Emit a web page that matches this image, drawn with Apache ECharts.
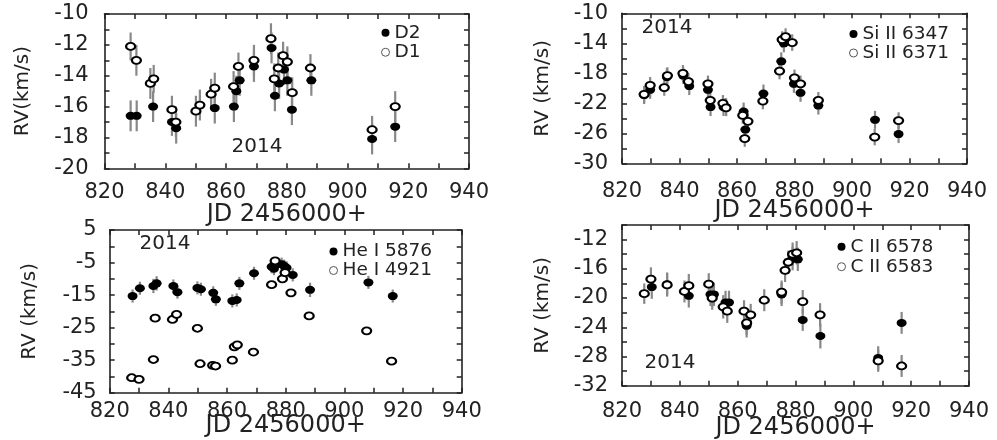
<!DOCTYPE html>
<html>
<head>
<meta charset="utf-8">
<title>RV 2014</title>
<script src="https://cdn.jsdelivr.net/npm/echarts@6/dist/echarts.min.js"></script>
<style>
  html, body { margin: 0; background: #fff; }
  #chart { width: 997px; height: 440px; }
</style>
</head>
<body>
<div id="chart"></div>
<script>
// panel 1 : D2 (filled) / D1 (open)
const d2X = [828.6, 830.6, 836.0, 842.2, 843.6, 856.3, 862.6, 863.4, 864.5, 869.2, 875.0, 876.1, 877.5, 879.1, 880.2, 881.7, 888.1, 908.1, 915.7]
const d2Y = [-16.6, -16.6, -16.0, -17.0, -17.4, -16.1, -16.0, -15.0, -14.3, -13.4, -12.2, -15.3, -14.5, -13.6, -14.3, -16.2, -14.3, -18.1, -17.3]
const d2E = [1.0, 1.0, 1.0, 0.9, 1.0, 1.0, 1.0, 1.0, 1.0, 1.0, 1.0, 1.0, 1.0, 1.0, 1.0, 1.0, 1.0, 1.0, 1.0]
const d1X = [828.6, 830.5, 835.1, 836.2, 842.2, 843.5, 850.1, 851.4, 855.1, 856.3, 862.5, 864.1, 869.2, 874.8, 875.9, 877.2, 878.8, 880.2, 881.8, 887.8, 908.1, 915.7]
const d1Y = [-12.1, -13.0, -14.5, -14.2, -16.2, -17.0, -16.3, -15.9, -15.2, -14.8, -14.7, -13.4, -13.0, -11.6, -14.2, -13.5, -12.7, -13.1, -15.1, -13.5, -17.5, -16.0]
const d1E = [0.9, 1.0, 1.0, 0.9, 0.9, 1.0, 1.0, 1.0, 1.0, 1.0, 1.0, 0.9, 1.0, 1.0, 1.0, 1.0, 0.9, 1.0, 1.0, 0.9, 0.9, 1.0]

// panel 2 : Si II 6347 (filled) / Si II 6371 (open)
const si47X = [827.7, 829.8, 835.6, 841.3, 843.4, 849.9, 850.8, 855.3, 856.2, 862.3, 862.9, 869.2, 875.4, 876.3, 879.8, 882.1, 888.3, 908.0, 916.2]
const si47Y = [-20.9, -20.2, -18.5, -18.3, -19.7, -20.2, -22.5, -22.5, -22.5, -23.1, -25.5, -20.7, -16.4, -14.0, -19.4, -20.6, -22.3, -24.2, -26.1]
const si47E = [1.2, 1.2, 1.2, 1.1, 1.2, 1.2, 1.2, 1.2, 1.2, 1.2, 1.2, 1.2, 1.2, 1.2, 1.2, 1.2, 1.2, 1.2, 1.2]
const si71X = [827.7, 829.8, 834.7, 835.8, 841.2, 843.1, 849.9, 850.7, 855.1, 856.2, 862.0, 862.7, 863.8, 869.0, 874.8, 875.7, 876.9, 879.2, 880.0, 882.1, 888.3, 907.9, 916.2]
const si71Y = [-20.8, -19.6, -19.9, -18.3, -18.0, -19.1, -19.4, -21.6, -22.0, -22.6, -23.6, -26.7, -24.4, -21.7, -17.7, -13.5, -13.1, -13.9, -18.6, -19.4, -21.6, -26.5, -24.3]
const si71E = [1.1, 1.1, 1.1, 1.1, 1.1, 1.1, 1.1, 1.1, 1.1, 1.1, 1.1, 1.1, 1.1, 1.1, 1.1, 1.1, 1.1, 1.1, 1.1, 1.1, 1.1, 1.1, 1.1]

// panel 3 : He I 5876 (filled) / He I 4921 (open)
const he76X = [827.8, 830.3, 834.9, 836.0, 841.7, 843.1, 849.9, 851.1, 855.3, 856.2, 861.8, 863.3, 864.2, 869.2, 875.2, 876.0, 876.9, 878.6, 879.5, 880.3, 882.4, 888.3, 908.2, 916.5]
const he76Y = [-15.3, -12.9, -12.2, -11.4, -12.2, -14.1, -12.8, -13.2, -14.3, -16.3, -16.8, -16.5, -11.4, -8.3, -6.3, -6.9, -5.5, -5.5, -6.1, -6.6, -8.8, -13.4, -11.1, -15.3]
const he76E = [2.0, 2.0, 2.2, 2.2, 2.0, 2.0, 2.0, 2.0, 2.0, 2.0, 2.0, 2.0, 2.0, 2.0, 2.0, 2.0, 2.0, 2.0, 2.0, 2.0, 2.0, 2.2, 2.0, 2.0]
const he21X = [827.5, 830.0, 834.9, 835.5, 841.4, 842.8, 849.9, 850.8, 855.1, 856.1, 861.8, 862.5, 863.5, 869.0, 875.2, 876.4, 878.9, 879.8, 881.8, 888.0, 907.6, 916.1]
const he21Y = [-40.4, -40.9, -34.8, -22.1, -22.5, -20.9, -25.2, -36.1, -36.6, -36.8, -35.0, -30.9, -30.3, -32.5, -11.8, -4.5, -10.0, -8.1, -14.3, -21.4, -26.0, -35.3]

// panel 4 : C II 6578 (filled) / C II 6583 (open)
const c78X = [830.3, 835.6, 843.1, 850.6, 851.8, 855.8, 857.0, 863.1, 875.2, 879.0, 880.8, 882.5, 888.6, 908.6, 916.7]
const c78Y = [-18.5, -18.1, -19.7, -19.5, -19.5, -20.6, -20.6, -23.8, -19.5, -14.6, -14.7, -23.0, -25.2, -28.2, -23.4]
const c78E = [1.6, 1.6, 1.6, 1.6, 1.6, 1.6, 1.6, 1.6, 1.6, 1.6, 1.6, 1.5, 1.7, 1.6, 1.5]
const c83X = [827.7, 830.0, 835.6, 841.6, 843.1, 850.0, 851.2, 855.0, 856.4, 862.2, 863.1, 864.5, 869.2, 875.2, 876.4, 877.5, 879.0, 880.4, 882.5, 888.5, 908.6, 916.7]
const c83Y = [-19.4, -17.4, -18.2, -19.1, -18.3, -18.1, -20.0, -21.2, -21.8, -21.8, -23.4, -22.3, -20.3, -19.2, -16.2, -15.1, -14.0, -13.8, -20.5, -22.3, -28.6, -29.3]
const c83E = [1.4, 1.6, 1.6, 1.5, 1.6, 1.5, 1.6, 1.6, 1.6, 1.5, 1.6, 1.5, 1.5, 1.6, 1.6, 1.6, 1.6, 1.6, 1.6, 1.6, 1.5, 1.5]

const xMin = 820
const xMax = 940

const FONT = 'DejaVu Sans'
const INK = '#222'

const panels = [
  { grid: { left: 104.5, top: 14, width: 364.5, height: 154.3 }, yMin: -20, yMax: -10, yStep: 1, yLabel: v => v % 2 === 0,
    yName: 'RV(km/s)', yGap: 72, yMargin: 16, xMargin: 14, xGap: 34.5,
    legend: { left: 381, top: 23, lh: 19.5 }, year: [257, 147],
    filled: ['D2', d2X, d2Y, d2E], open: ['D1', d1X, d1Y, d1E] },
  { grid: { left: 622, top: 13.3, width: 345, height: 150 }, yMin: -30, yMax: -10, yStep: 2, yLabel: v => (v + 30) % 4 === 0,
    yName: 'RV (km/s)', yGap: 69, yMargin: 14, xMargin: 18, xGap: 35,
    legend: { left: 849, top: 24.5, lh: 15 }, year: [667, 28],
    filled: ['Si II 6347', si47X, si47Y, si47E], open: ['Si II 6371', si71X, si71Y, si71E] },
  { grid: { left: 109.7, top: 230, width: 352, height: 162.7 }, yMin: -45, yMax: 5, yStep: 5, yLabel: v => (v + 45) % 10 === 0,
    yName: 'RV (km/s)', yGap: 70, yMargin: 13, xMargin: 8, xGap: 21.5,
    legend: { left: 329, top: 242, lh: 14 }, year: [165, 244],
    filled: ['He I 5876', he76X, he76Y, he76E], open: ['He I 4921', he21X, he21Y, null] },
  { grid: { left: 622, top: 225, width: 347, height: 160.7 }, yMin: -32, yMax: -10, yStep: 2, yLabel: v => (v + 32) % 4 === 0,
    yName: 'RV (km/s)', yGap: 69, yMargin: 14, xMargin: 15, xGap: 30,
    legend: { left: 837, top: 236.7, lh: 20 }, year: [670, 363],
    filled: ['C II 6578', c78X, c78Y, c78E], open: ['C II 6583', c83X, c83Y, c83E] }
]

const lineStyle = { color: INK, width: 1.6 }
const tickStyle = { inside: true, length: 5, lineStyle: { color: INK, width: 1.5 } }

let grids = []
let xAxes = []
let yAxes = []
let series = []
let legends = []
let graphics = []

function pairs (xs, ys, es) {
  return xs.map((x, i) => es ? [x, ys[i], es[i]] : [x, ys[i]])
}

function errorBars (xs, ys, es, axisIdx) {
  return {
    type: 'custom',
    xAxisIndex: axisIdx,
    yAxisIndex: axisIdx,
    silent: true,
    z: 1,
    encode: { x: 0, y: 1 },
    data: pairs(xs, ys, es),
    renderItem: function (params, api) {
      var top = api.coord([api.value(0), api.value(1) + api.value(2)])
      var bot = api.coord([api.value(0), api.value(1) - api.value(2)])
      return {
        type: 'line',
        shape: { x1: top[0], y1: top[1], x2: bot[0], y2: bot[1] },
        style: { stroke: '#888', lineWidth: 2.2 }
      }
    }
  }
}

panels.forEach((p, i) => {
  grids.push(Object.assign({ containLabel: false, outerBoundsMode: 'none' }, p.grid))
  const a = i * 2
  // bottom axis with labels, top axis as frame mirror
  xAxes.push({
    gridIndex: i, type: 'value', position: 'bottom', min: xMin, max: xMax, interval: 10,
    name: 'JD 2456000+', nameLocation: 'middle', nameGap: p.xGap, nameMoveOverlap: false,
    nameTextStyle: { fontFamily: FONT, fontSize: 24, color: INK },
    axisLine: { onZero: false, lineStyle: lineStyle }, axisTick: tickStyle, splitLine: { show: false },
    axisLabel: { margin: p.xMargin, fontFamily: FONT, fontSize: 21, color: INK,
      formatter: v => (v % 20 === 0 ? String(v) : '') }
  })
  xAxes.push({
    gridIndex: i, type: 'value', position: 'top', min: xMin, max: xMax, interval: 10,
    axisLine: { onZero: false, lineStyle: lineStyle }, axisTick: tickStyle, splitLine: { show: false },
    axisLabel: { show: false }
  })
  yAxes.push({
    gridIndex: i, type: 'value', position: 'left', min: p.yMin, max: p.yMax, interval: p.yStep,
    name: p.yName, nameLocation: 'middle', nameGap: p.yGap, nameMoveOverlap: false,
    nameTextStyle: { fontFamily: FONT, fontSize: 20, color: INK },
    axisLine: { onZero: false, lineStyle: lineStyle }, axisTick: tickStyle, splitLine: { show: false },
    axisLabel: { margin: p.yMargin, fontFamily: FONT, fontSize: 21, color: INK,
      formatter: v => (p.yLabel(v) ? String(v) : '') }
  })
  yAxes.push({
    gridIndex: i, type: 'value', position: 'right', min: p.yMin, max: p.yMax, interval: p.yStep,
    axisLine: { onZero: false, lineStyle: lineStyle }, axisTick: tickStyle, splitLine: { show: false },
    axisLabel: { show: false }
  })

  const f = p.filled
  const o = p.open
  series.push(errorBars(f[1], f[2], f[3], a))
  if (o[3]) series.push(errorBars(o[1], o[2], o[3], a))
  series.push({
    name: f[0], type: 'scatter', xAxisIndex: a, yAxisIndex: a, z: 3,
    symbol: 'circle', symbolSize: [10, 8],
    itemStyle: { color: '#000', opacity: 1 },
    data: pairs(f[1], f[2])
  })
  series.push({
    name: o[0], type: 'scatter', xAxisIndex: a, yAxisIndex: a, z: 4,
    symbol: 'circle', symbolSize: [9, 7],
    itemStyle: { color: '#fff', borderColor: '#000', borderWidth: 2, opacity: 1 },
    data: pairs(o[1], o[2])
  })

  legends.push({
    orient: 'vertical', left: p.legend.left, top: p.legend.top, padding: 0, itemGap: 0,
    itemWidth: 8, itemHeight: 8, icon: 'circle', selectedMode: false,
    textStyle: { fontFamily: FONT, fontSize: 18.5, color: INK, lineHeight: p.legend.lh },
    data: [
      { name: f[0], itemStyle: { color: '#000', borderWidth: 0 } },
      { name: o[0], itemStyle: { color: '#fff', borderColor: '#555', borderWidth: 1 } }
    ]
  })

  graphics.push({
    type: 'text', x: p.year[0], y: p.year[1], z: 10,
    style: { text: '2014', fontFamily: FONT, fontSize: 20, fill: INK, align: 'center', verticalAlign: 'middle' }
  })
})

const chart = echarts.init(document.getElementById('chart'), null, { renderer: 'canvas' })
chart.setOption({
  animation: false,
  backgroundColor: '#fff',
  grid: grids,
  xAxis: xAxes,
  yAxis: yAxes,
  legend: legends,
  graphic: graphics,
  series: series
})
</script>
</body>
</html>
